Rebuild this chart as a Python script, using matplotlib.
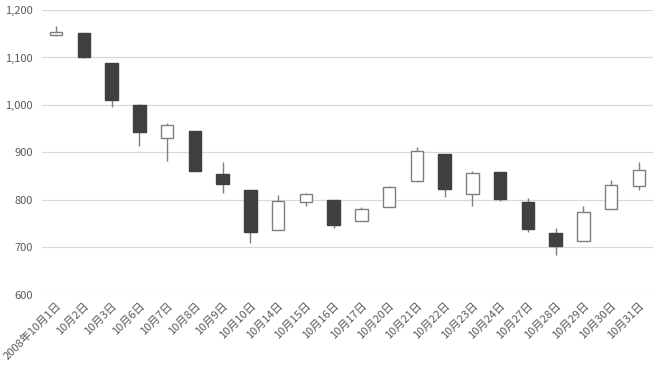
import matplotlib
matplotlib.use("Agg")
import matplotlib.pyplot as plt
from matplotlib.ticker import FuncFormatter, MultipleLocator

plt.rcParams['font.family'] = ['Noto Sans CJK JP', 'DejaVu Sans']

dates = ["2008年10月1日", "10月2日", "10月3日", "10月6日", "10月7日", "10月8日",
         "10月9日", "10月10日", "10月14日", "10月15日", "10月16日", "10月17日",
         "10月20日", "10月21日", "10月22日", "10月23日", "10月24日", "10月27日",
         "10月28日", "10月29日", "10月30日", "10月31日"]
opens = [1147, 1151, 1088, 1000, 930, 946, 855, 821, 737, 795, 800, 756,
         786, 839, 896, 813, 858, 796, 730, 714, 781, 830]
highs = [1166, 1152, 1088, 1001, 961, 946, 879, 821, 810, 815, 800, 786,
         829, 911, 897, 860, 858, 805, 740, 787, 841, 879]
lows = [1145, 1098, 996, 914, 883, 861, 814, 710, 736, 787, 740, 756,
        786, 838, 807, 787, 798, 733, 684, 714, 781, 821]
closes = [1154, 1100, 1010, 943, 958, 861, 834, 733, 798, 812, 747, 780,
          827, 904, 823, 856, 801, 739, 704, 775, 832, 862]

fig = plt.figure(figsize=(6.6, 3.7), dpi=100)
ax = fig.add_axes([0.064, 0.203, 0.925, 0.770])

width = 0.45
for i in range(len(dates)):
    o, h, l, c = opens[i], highs[i], lows[i], closes[i]
    ax.vlines(i, l, h, color="#7f7f7f", linewidth=1.0, zorder=2)
    if c >= o:
        face, edge = "white", "#7f7f7f"
    else:
        face, edge = "#404040", "#404040"
    ax.bar(i, abs(c - o), bottom=min(o, c), width=width, color=face,
           edgecolor=edge, linewidth=1.0, zorder=3)

ax.set_xlim(-0.5, len(dates) - 0.5)
ax.set_ylim(600, 1200)
ax.yaxis.set_major_locator(MultipleLocator(100))
ax.yaxis.set_major_formatter(FuncFormatter(lambda v, p: "{:,.0f}".format(v)))
ax.grid(axis="y", color="#d9d9d9", linewidth=0.9, zorder=0)
ax.set_axisbelow(True)

ax.set_xticks(range(len(dates)))
ax.set_xticklabels(dates, rotation=45, ha="right", rotation_mode="anchor")
ax.tick_params(axis="both", length=0, colors="#595959", labelsize=8)
ax.tick_params(axis="x", pad=4)
ax.tick_params(axis="y", pad=7)
for s in ax.spines.values():
    s.set_visible(False)

fig.savefig("out.png", dpi=100)
